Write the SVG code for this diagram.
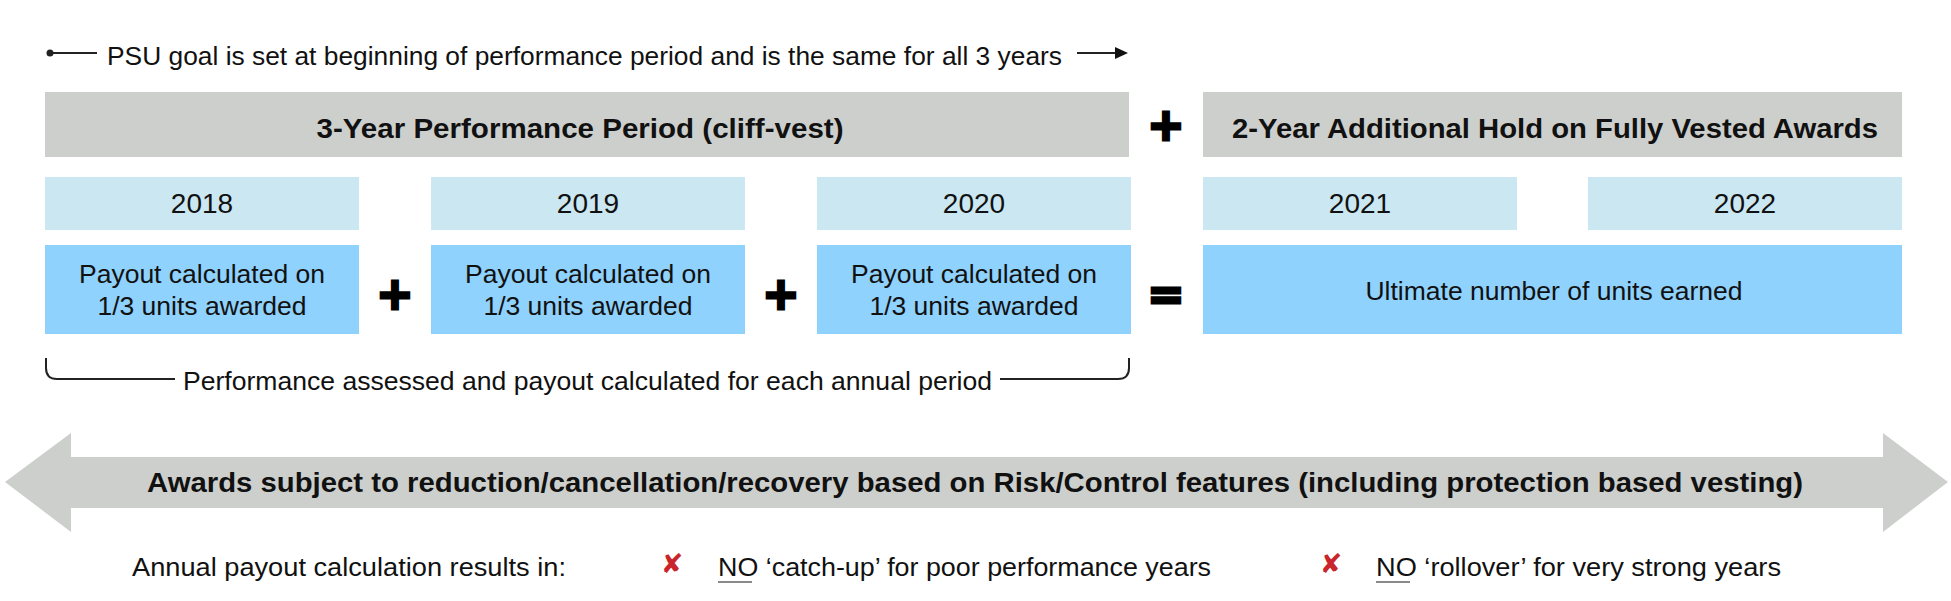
<svg xmlns="http://www.w3.org/2000/svg" width="1951" height="601" viewBox="0 0 1951 601">
<style>
.hdr{fill:#cdcfcd}
.yr{fill:#cae7f2}
.pay{fill:#8fd2fd}
.t{font-family:"Liberation Sans",Arial,sans-serif;fill:#111}
.b{font-weight:bold}
.c{text-anchor:middle}
.op{font-family:"DejaVu Sans",sans-serif;font-weight:bold;font-size:44px;fill:#000;stroke:#000;stroke-width:3;text-anchor:middle}
.ln{stroke:#222;stroke-width:2;fill:none}
.x{font-family:"DejaVu Sans",sans-serif;font-size:27px;fill:#c8262c;text-anchor:middle;font-weight:bold}
</style>
<rect width="1951" height="601" fill="#fff"/>

<g id="goal-note">
<circle cx="50" cy="53" r="3.5" fill="#222"/>
<line class="ln" x1="50" y1="53" x2="97" y2="53"/>
<text class="t" x="107" y="65" font-size="25" textLength="955" lengthAdjust="spacingAndGlyphs">PSU goal is set at beginning of performance period and is the same for all 3 years</text>
<line class="ln" x1="1077" y1="53" x2="1117" y2="53"/>
<polygon points="1115,47 1128,53 1115,59" fill="#111"/>
</g>

<g id="perf-period">
<rect class="hdr" x="45" y="92" width="1084" height="65"/>
<text class="t b c" x="580" y="138" font-size="28" textLength="527" lengthAdjust="spacingAndGlyphs">3-Year Performance Period (cliff-vest)</text>
</g>
<g id="plus-top"><text class="op" x="1166" y="140">+</text></g>
<g id="hold">
<rect class="hdr" x="1203" y="92" width="699" height="65"/>
<text class="t b c" x="1555" y="138" font-size="28" textLength="646" lengthAdjust="spacingAndGlyphs">2-Year Additional Hold on Fully Vested Awards</text>
</g>

<g id="y2018"><rect class="yr" x="45" y="177" width="314" height="53"/><text class="t c" x="202" y="213" font-size="28">2018</text></g>
<g id="y2019"><rect class="yr" x="431" y="177" width="314" height="53"/><text class="t c" x="588" y="213" font-size="28">2019</text></g>
<g id="y2020"><rect class="yr" x="817" y="177" width="314" height="53"/><text class="t c" x="974" y="213" font-size="28">2020</text></g>
<g id="y2021"><rect class="yr" x="1203" y="177" width="314" height="53"/><text class="t c" x="1360" y="213" font-size="28">2021</text></g>
<g id="y2022"><rect class="yr" x="1588" y="177" width="314" height="53"/><text class="t c" x="1745" y="213" font-size="28">2022</text></g>

<g id="pay2018"><rect class="pay" x="45" y="245" width="314" height="89"/>
<text class="t c" x="202" y="283" font-size="26.5">Payout calculated on</text>
<text class="t c" x="202" y="315" font-size="26.5">1/3 units awarded</text></g>
<g id="plus1"><text class="op" x="395" y="309">+</text></g>
<g id="pay2019"><rect class="pay" x="431" y="245" width="314" height="89"/>
<text class="t c" x="588" y="283" font-size="26.5">Payout calculated on</text>
<text class="t c" x="588" y="315" font-size="26.5">1/3 units awarded</text></g>
<g id="plus2"><text class="op" x="781" y="309">+</text></g>
<g id="pay2020"><rect class="pay" x="817" y="245" width="314" height="89"/>
<text class="t c" x="974" y="283" font-size="26.5">Payout calculated on</text>
<text class="t c" x="974" y="315" font-size="26.5">1/3 units awarded</text></g>
<g id="equals"><text class="op" x="1166" y="309">=</text></g>
<g id="ultimate"><rect class="pay" x="1203" y="245" width="699" height="89"/>
<text class="t c" x="1554" y="300" font-size="26.5">Ultimate number of units earned</text></g>

<g id="connectors">
<path class="ln" d="M46,358 V368 Q46,379 57,379 H175"/>
<path class="ln" d="M1000,379 H1118 Q1129,379 1129,368 V358"/>
</g>
<g id="bracket-label">
<text class="t" x="183" y="390" font-size="26" textLength="809" lengthAdjust="spacingAndGlyphs">Performance assessed and payout calculated for each annual period</text>
</g>

<g id="risk-arrow">
<polygon class="hdr" points="5,482 71,433 71,457 1883,457 1883,433 1948,482 1883,532 1883,508 71,508 71,532"/>
<text class="t b" x="147" y="492" font-size="28" textLength="1656" lengthAdjust="spacingAndGlyphs">Awards subject to reduction/cancellation/recovery based on Risk/Control features (including protection based vesting)</text>
</g>

<g id="results">
<text class="t" x="132" y="576" font-size="25" textLength="434" lengthAdjust="spacingAndGlyphs">Annual payout calculation results in:</text>
<text class="x" x="672" y="573">✘</text>
<text class="t" x="718" y="576" font-size="25" textLength="493" lengthAdjust="spacingAndGlyphs">NO ‘catch-up’ for poor performance years</text>
<line x1="718" y1="582" x2="752" y2="582" stroke="#8a8a8a" stroke-width="2"/>
<text class="x" x="1331" y="573">✘</text>
<text class="t" x="1376" y="576" font-size="25" textLength="405" lengthAdjust="spacingAndGlyphs">NO ‘rollover’ for very strong years</text>
<line x1="1376" y1="582" x2="1410" y2="582" stroke="#8a8a8a" stroke-width="2"/>
</g>
</svg>
